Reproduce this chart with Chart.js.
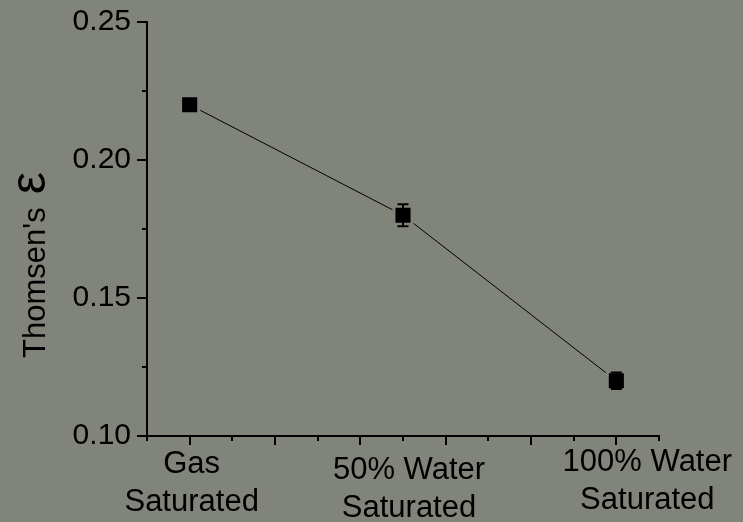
<!DOCTYPE html>
<html>
<head>
<meta charset="utf-8">
<script src="https://cdn.jsdelivr.net/npm/chart.js@4/dist/chart.umd.min.js"></script>
<style>
  html, body { margin: 0; padding: 0; background: rgb(128,132,122); }
  #wrap { width: 743px; height: 522px; position: relative; }
  canvas { display: block; }
</style>
</head>
<body>
<div id="wrap"><canvas id="c" width="743" height="522"></canvas></div>
<script>
// Saturation states along the x axis
const categories = [['Gas', 'Saturated'], ['50% Water', 'Saturated'], ['100% Water', 'Saturated']];
// Thomsen's epsilon for each state, with its error half-width
const epsilonValues = [0.220, 0.180, 0.120];
const epsilonErrors = [0.002, 0.004, 0.003];

const BG = 'rgb(128,132,122)';
const FONT = '"Liberation Sans", Arial, Helvetica, sans-serif';

const points = epsilonValues.map((v, i) => ({ x: i, y: v }));

// Outward tick marks: long at major positions, short at minor ones
const tickMarks = {
  id: 'tickMarks',
  afterDraw(chart) {
    const { ctx, scales: { x, y }, chartArea } = chart;
    ctx.save();
    ctx.strokeStyle = '#000';
    ctx.lineWidth = 2;
    ctx.lineCap = 'butt';
    x.ticks.forEach(t => {
      const px = Math.round(x.getPixelForValue(t.value));
      const major = Math.round(t.value * 10) % 4 === 0;
      const len = major ? 9 : 5;
      ctx.beginPath();
      ctx.moveTo(px, chartArea.bottom);
      ctx.lineTo(px, chartArea.bottom + len);
      ctx.stroke();
    });
    y.ticks.forEach(t => {
      const py = Math.round(y.getPixelForValue(t.value));
      const major = Math.round(t.value * 1000) % 50 === 0;
      const len = major ? 10 : 5;
      ctx.beginPath();
      ctx.moveTo(chartArea.left, py);
      ctx.lineTo(chartArea.left - len, py);
      ctx.stroke();
    });
    ctx.restore();
  }
};

// Two-line category captions under the x axis, each slightly nudged
const categoryLabels = {
  id: 'categoryLabels',
  afterDraw(chart) {
    const { ctx, scales: { x }, chartArea } = chart;
    const nudge = [[2, 0], [6, 6], [31, -2]];
    ctx.save();
    ctx.fillStyle = '#000';
    ctx.font = '31px ' + FONT;
    ctx.textAlign = 'center';
    ctx.textBaseline = 'alphabetic';
    categories.forEach((lines, i) => {
      const cx = x.getPixelForValue(i) + nudge[i][0];
      lines.forEach((line, j) => {
        ctx.fillText(line, cx, chartArea.bottom + 37 + nudge[i][1] + j * 38);
      });
    });
    ctx.restore();
  }
};

// Vertical error bars with caps
const errorBars = {
  id: 'errorBars',
  afterDatasetsDraw(chart) {
    const { ctx, scales: { x, y } } = chart;
    ctx.save();
    ctx.strokeStyle = '#000';
    ctx.lineWidth = 2;
    epsilonValues.forEach((v, i) => {
      const px = x.getPixelForValue(i);
      const top = y.getPixelForValue(v + epsilonErrors[i]);
      const bot = y.getPixelForValue(v - epsilonErrors[i]);
      const cap = 5.5;
      ctx.beginPath();
      ctx.moveTo(px, top); ctx.lineTo(px, bot);
      ctx.moveTo(px - cap, top); ctx.lineTo(px + cap, top);
      ctx.moveTo(px - cap, bot); ctx.lineTo(px + cap, bot);
      ctx.stroke();
    });
    ctx.restore();
  }
};

// Rotated y-axis title with a larger epsilon symbol
const yTitle = {
  id: 'yTitle',
  afterDraw(chart) {
    const { ctx } = chart;
    ctx.save();
    ctx.translate(45, 358);
    ctx.rotate(-Math.PI / 2);
    ctx.fillStyle = '#000';
    ctx.textAlign = 'left';
    ctx.textBaseline = 'alphabetic';
    ctx.font = '31px ' + FONT;
    const label = "Thomsen's";
    ctx.fillText(label, 0, 0);
    const w = ctx.measureText(label).width;
    ctx.font = '50px ' + FONT;
    ctx.fillText('\u03B5', w + 13, 0);
    ctx.restore();
  }
};

new Chart(document.getElementById('c'), {
  type: 'scatter',
  data: {
    datasets: [{
      data: points,
      showLine: true,
      borderColor: '#000',
      borderWidth: 1,
      pointStyle: 'rect',
      pointRadius: 12.8,
      pointHoverRadius: 12.8,
      pointBackgroundColor: '#000',
      pointBorderColor: BG,
      pointBorderWidth: 3,
      clip: false
    }]
  },
  options: {
    responsive: false,
    animation: false,
    events: [],
    layout: { padding: { left: 0, top: 22, right: 84, bottom: 0 } },
    plugins: { legend: { display: false }, tooltip: { enabled: false } },
    scales: {
      x: {
        type: 'linear',
        min: -0.2,
        max: 2.2,
        afterFit(s) { s.height = 86; s.paddingLeft = 0; s.paddingRight = 0; },
        grid: { display: false, drawTicks: false },
        border: { display: true, color: '#000', width: 2 },
        ticks: {
          stepSize: 0.2,
          autoSkip: false,
          maxRotation: 0,
          callback() { return ''; }
        }
      },
      y: {
        min: 0.10,
        max: 0.25,
        afterFit(s) { s.width = 147; s.paddingTop = 0; s.paddingBottom = 0; },
        grid: { display: false, drawTicks: false },
        border: { display: true, color: '#000', width: 2 },
        ticks: {
          stepSize: 0.025,
          padding: 16,
          color: '#000',
          font: { family: FONT, size: 30 },
          callback(v) {
            return Math.round(v * 1000) % 50 === 0 ? v.toFixed(2) : '';
          }
        }
      }
    }
  },
  plugins: [tickMarks, errorBars, categoryLabels, yTitle]
});
</script>
</body>
</html>
